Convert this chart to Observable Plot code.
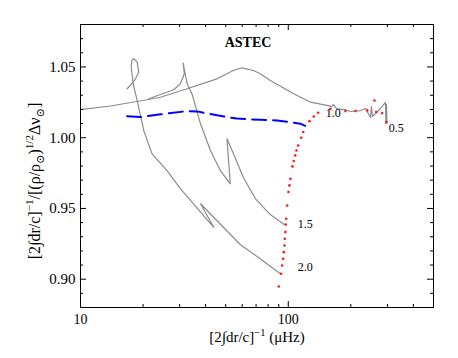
<!DOCTYPE html>
<html><head><meta charset="utf-8">
<script src="https://cdn.jsdelivr.net/npm/d3@7"></script>
<script src="https://cdn.jsdelivr.net/npm/@observablehq/plot@0.6"></script>
<style>
body{margin:0;background:#fff}
svg{display:block}
svg text{font-family:"Liberation Serif","DejaVu Serif",serif !important;}
</style>
</head><body><div id="chart"></div><script>
// ---- data ----
const title = "ASTEC";
const xMajorTicks = [10, 100];
const xMinorTicks = [20, 30, 40, 50, 60, 70, 80, 90, 200, 300, 400];
const yMajorTicks = [0.90, 0.95, 1.00, 1.05];
const yMinorTicks = [0.88, 0.89, 0.91, 0.92, 0.93, 0.94, 0.96, 0.97, 0.98, 0.99, 1.01, 1.02, 1.03, 1.04, 1.06, 1.07];

// evolutionary tracks (gray)
const track20X = [91.5, 73.3, 58.7, 37.8, 43.8, 30.3, 26.1, 22.1, 20.15, 18.73, 17.92, 17.53, 17.69, 18.08, 18.73, 19.07, 18.18, 16.77];
const track20Y = [0.9038, 0.9144, 0.9245, 0.9533, 0.9367, 0.9639, 0.9768, 0.9886, 1.0051, 1.0263, 1.0381, 1.0503, 1.0549, 1.0558, 1.0534, 1.0463, 1.0404, 1.0346];
const track15X = [95.7, 81.9, 69.4, 60.8, 54.4, 50.7, 52.6, 47.1, 42.2, 37.8, 34.5, 32.6, 31.2, 31.6, 30.26, 28.1, 24.24, 21.3];
const track15Y = [0.9387, 0.9457, 0.9570, 0.9719, 0.9888, 0.9992, 0.9674, 0.9768, 0.9910, 1.0098, 1.0305, 1.0381, 1.0527, 1.0452, 1.0381, 1.0339, 1.0305, 1.0275];
const track10X = [10, 13.94, 20.93, 24.24, 32.58, 45.4, 54.4, 59.8, 67.9, 73.3, 81.9, 106.1, 127.6, 153.5, 162.2, 165.0, 170.6, 188.5];
const track10Y = [1.0199, 1.0224, 1.0268, 1.0286, 1.0346, 1.0416, 1.0475, 1.0494, 1.0475, 1.0452, 1.0404, 1.0310, 1.0252, 1.0228, 1.0220, 1.0235, 1.0206, 1.0196];
const track05X = [188.5, 199.2, 222.6, 235.2, 248.6, 251.4, 254.2, 271.8, 293.6, 295.1, 296.8, 298.5];
const track05Y = [1.0196, 1.0185, 1.0192, 1.0206, 1.0143, 1.0220, 1.0150, 1.0192, 1.0249, 1.0100, 1.0235, 1.0107];

// blue dashed line
const blueX = [16.77, 19.43, 24.24, 32.58, 36.39, 45.4, 56.6, 65.6, 73.3, 88.3, 102.2, 114.2, 120.7];
const blueY = [1.0151, 1.0146, 1.0165, 1.0188, 1.0186, 1.0158, 1.0135, 1.0130, 1.0127, 1.0122, 1.0110, 1.0099, 1.0084];

// red dotted locus
const redX = [90.0, 92.4, 93.4, 94.5, 95.1, 95.9, 96.2, 96.9, 97.3, 97.7, 98.8, 100.2, 101.3, 102.5, 104.8, 106.3, 108.0, 109.5, 111.6, 115.4, 118.0, 126.5, 132.6, 139.3, 159.6, 188.5, 210.6, 239.8, 259.9, 264.9, 283.1, 296.9];
const redY = [0.8948, 0.9038, 0.9097, 0.9144, 0.9191, 0.9238, 0.9286, 0.9333, 0.9387, 0.9427, 0.9521, 0.9616, 0.9663, 0.9710, 0.9797, 0.9835, 0.9875, 0.9910, 0.9945, 1.0000, 1.0040, 1.0117, 1.0150, 1.0176, 1.0204, 1.0188, 1.0188, 1.0193, 1.0263, 1.0181, 1.0174, 1.0110];

// mass labels
const massLabels = ["1.0", "0.5", "1.5", "2.0"];
const massLabelX = [164.4, 330.5, 120.7, 120.7];
const massLabelY = [1.0172, 1.0064, 0.9391, 0.9084];

const xLabel = "[2∫dr/c]−1 (μHz)";
const yLabel = "[2∫dr/c]−1/[(ρ/ρ⊙)1/2Δν⊙]";

// ---- build tables ----
const toRows = (X, Y, name) => X.map((x, i) => ({x, y: Y[i], name}));
const tracks = [
  ...toRows(track20X, track20Y, "2.0"),
  ...toRows(track15X, track15Y, "1.5"),
  ...toRows(track10X, track10Y, "1.0"),
  ...toRows(track05X, track05Y, "0.5")
];
const blue = toRows(blueX, blueY, "b");
const red = toRows(redX, redY, "r");
const labels = massLabels.map((t, i) => ({t, x: massLabelX[i], y: massLabelY[i]}));

const W = 458, H = 358, mL = 80, mR = 25, mT = 24, mB = 51;
const pw = W - mL - mR, ph = H - mT - mB;

const chart = Plot.plot({
  width: W, height: H,
  marginLeft: mL, marginRight: mR, marginTop: mT, marginBottom: mB,
  style: {color: "black", background: "white"},
  x: {type: "log", domain: [10, 500], axis: null},
  y: {domain: [0.88, 1.08], axis: null},
  marks: [
    Plot.line(tracks, {x: "x", y: "y", z: "name", stroke: "#8c8c8c", strokeWidth: 1.2}),
    Plot.line(blue, {x: "x", y: "y", stroke: "#0000ff", strokeWidth: 2, strokeDasharray: "14 7"}),
    Plot.dot(red, {x: "x", y: "y", r: 1.3, fill: "#ff1a1a", stroke: null}),
    Plot.text(labels, {x: "x", y: "y", text: "t", fontSize: 12, fill: "black"}),
    // axes: frame and inward ticks
    Plot.frame({stroke: "black", strokeWidth: 1}),
    Plot.tickY(yMajorTicks, {y: d => d, insetRight: pw - 6, stroke: "black"}),
    Plot.tickY(yMajorTicks, {y: d => d, insetLeft: pw - 6, stroke: "black"}),
    Plot.tickY(yMinorTicks, {y: d => d, insetRight: pw - 3, stroke: "black"}),
    Plot.tickY(yMinorTicks, {y: d => d, insetLeft: pw - 3, stroke: "black"}),
    Plot.tickX(xMajorTicks, {x: d => d, insetTop: ph - 6, stroke: "black"}),
    Plot.tickX(xMajorTicks, {x: d => d, insetBottom: ph - 6, stroke: "black"}),
    Plot.tickX(xMinorTicks, {x: d => d, insetTop: ph - 3, stroke: "black"}),
    Plot.tickX(xMinorTicks, {x: d => d, insetBottom: ph - 3, stroke: "black"}),
    Plot.axisX(xMajorTicks, {tickSize: 0, tickPadding: 7, tickFormat: d => String(d), label: null, fontSize: 14}),
    Plot.axisY(yMajorTicks, {tickSize: 0, tickPadding: 5, tickFormat: d => d.toFixed(2), label: null, fontSize: 15}),
    Plot.text([title], {frameAnchor: "top", textAnchor: "middle", lineAnchor: "middle", dx: -9, dy: 18, fontSize: 14, fontWeight: "bold"}),
    Plot.text([xLabel], {frameAnchor: "bottom", textAnchor: "middle", lineAnchor: "middle", dy: 30, fontSize: 15}),
    Plot.text([yLabel], {frameAnchor: "left", textAnchor: "middle", lineAnchor: "middle", dx: -46, dy: 15, rotate: -90, fontSize: 16})
  ]
});
document.getElementById("chart").appendChild(chart);

// rich text (super/subscripts) for axis labels
function setRich(el, parts, base) {
  el.textContent = "";
  let shift = 0;
  for (const [s, k] of parts) {
    const t = document.createElementNS("http://www.w3.org/2000/svg", "tspan");
    const target = k === "sup" ? -base * 0.4 : k === "sub" ? base * 0.25 : 0;
    t.setAttribute("dy", target - shift);
    shift = target;
    if (k) t.setAttribute("font-size", base * 0.7);
    t.textContent = s;
    el.appendChild(t);
  }
}
d3.select(chart).selectAll("text").each(function() {
  if (this.textContent === xLabel) setRich(this, [["[2∫dr/c]"], ["−1", "sup"], [" (μHz)"]], 15);
  else if (this.textContent === yLabel) setRich(this, [["[2∫dr/c]"], ["−1", "sup"], ["/[(ρ/ρ"], ["⊙", "sub"], [")"], ["1/2", "sup"], ["Δν"], ["⊙", "sub"], ["]"]], 16);
});
</script></body></html>
